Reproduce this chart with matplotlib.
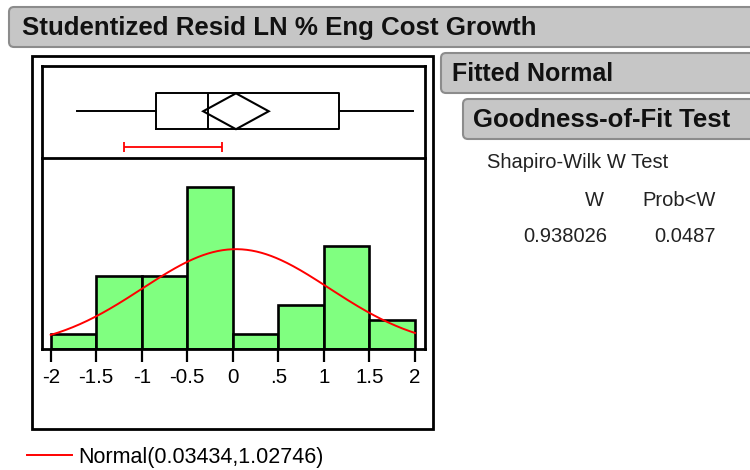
import numpy as np
import matplotlib.pyplot as plt
from matplotlib.patches import FancyBboxPatch, Rectangle, Polygon

plt.rcParams['font.family'] = ['Liberation Sans', 'DejaVu Sans']

# histogram of studentized residuals
bin_edges = [-2, -1.5, -1, -0.5, 0, 0.5, 1, 1.5, 2]
counts = [1, 5, 5, 11, 1, 3, 7, 2]
tick_vals = [-2, -1.5, -1, -0.5, 0, 0.5, 1, 1.5, 2]
tick_labels = ['-2', '-1.5', '-1', '-0.5', '0', '.5', '1', '1.5', '2']

# fitted normal
mu = 0.03434
sigma = 1.02746

# outlier box plot summary
whisker_lo = -1.71
q1 = -0.84
median = -0.27
q3 = 1.17
whisker_hi = 1.98
mean_ci_half = 0.36
shortest_half = [-1.2, -0.12]

# goodness of fit
w_stat = '0.938026'
p_value = '0.0487'

W, H = 750, 470
fig = plt.figure(figsize=(W / 100, H / 100), dpi=100)


def px_rect(x0, y0, x1, y1):
    return [x0 / W, 1 - y1 / H, (x1 - x0) / W, (y1 - y0) / H]


# background layer in pixel coords for the report frames
bg = fig.add_axes([0, 0, 1, 1])
bg.set_xlim(0, W)
bg.set_ylim(H, 0)
bg.axis('off')


def header(x0, y0, y1, text, tx, size):
    bg.add_patch(FancyBboxPatch((x0, y0), W + 20 - x0, y1 - y0,
                                boxstyle="round,pad=0,rounding_size=5",
                                fc='#c6c6c6', ec='#8c8c8c', lw=1.5))
    bg.text(tx, (y0 + y1) / 2 + 1, text, fontsize=size, fontweight='bold',
            color='#111111', va='center', ha='left')


header(9, 7, 47, 'Studentized Resid LN % Eng Cost Growth', 22, 18.6)
header(441, 53, 93, 'Fitted Normal', 452, 18)
header(463, 99, 139, 'Goodness-of-Fit Test', 473, 18.5)

bg.add_patch(Rectangle((32, 56), 401, 373, fill=False, ec='black', lw=2))

bg.text(487, 163, 'Shapiro-Wilk W Test', fontsize=14.5, color='#222222',
        va='center', ha='left')
bg.text(604, 200, 'W', fontsize=14.5, color='#222222', va='center', ha='right')
bg.text(716, 200, 'Prob<W', fontsize=14.5, color='#222222', va='center', ha='right')
bg.text(607, 236, w_stat, fontsize=14.5, color='#222222', va='center', ha='right')
bg.text(716, 236, p_value, fontsize=14.5, color='#222222', va='center', ha='right')

xlim = (-2.0955, 2.11)

# histogram panel
ax = fig.add_axes(px_rect(42, 158, 425, 349))
lefts = bin_edges[:-1]
widths = np.diff(bin_edges)
ax.bar(lefts, counts, width=widths, align='edge', color='#80ff80',
       edgecolor='black', linewidth=1.9, zorder=2)
n = sum(counts)
xs = np.linspace(bin_edges[0], bin_edges[-1], 300)
ys = n * widths[0] * np.exp(-0.5 * ((xs - mu) / sigma) ** 2) / (sigma * np.sqrt(2 * np.pi))
curve, = ax.plot(xs, ys, color='red', lw=1.4, zorder=3)
ax.set_xlim(*xlim)
ax.set_ylim(0, 13)
ax.set_xticks(tick_vals)
ax.set_xticklabels(tick_labels)
ax.set_yticks([])
ax.tick_params(axis='x', length=9.5, width=1.6, labelsize=14.8, pad=4, colors='black')
for s in ['left', 'right', 'bottom']:
    ax.spines[s].set_linewidth(2)
ax.spines['top'].set_visible(False)

# box plot panel
bx = fig.add_axes(px_rect(42, 66, 425, 158))
stats = [{'whislo': whisker_lo, 'q1': q1, 'med': median, 'q3': q3,
          'whishi': whisker_hi, 'fliers': []}]
line_kw = dict(color='black', lw=1.4)
bx.bxp(stats, positions=[0.508], widths=0.39, orientation='horizontal',
       showcaps=False, boxprops=line_kw, medianprops=line_kw,
       whiskerprops=line_kw, manage_ticks=False)
bx.add_patch(Polygon([(mu - mean_ci_half, 0.508), (mu, 0.703),
                      (mu + mean_ci_half, 0.508), (mu, 0.313)],
                     closed=True, fill=False, ec='black', lw=1.5))
bx.errorbar((shortest_half[0] + shortest_half[1]) / 2, 0.116,
            xerr=(shortest_half[1] - shortest_half[0]) / 2,
            color='red', lw=1.3, capsize=3.5, capthick=1.3)
bx.set_xlim(*xlim)
bx.set_ylim(0, 1)
bx.set_xticks([])
bx.set_yticks([])
for s in bx.spines.values():
    s.set_linewidth(2)

fig.legend([curve], ['Normal(%.5f,%.5f)' % (mu, sigma)], loc='center left',
           bbox_to_anchor=(27 / W, 1 - 457 / H), frameon=False, fontsize=15.5,
           handlelength=2.1, handletextpad=0.3, borderpad=0, borderaxespad=0)

fig.savefig('out.png', dpi=100)
